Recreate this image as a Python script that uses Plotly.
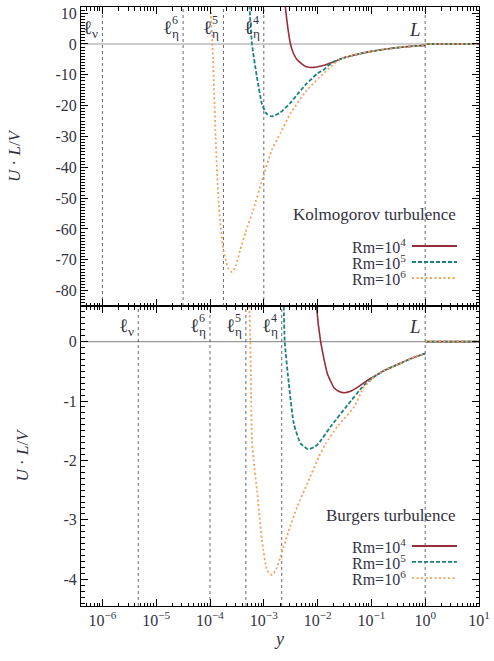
import math
import plotly.graph_objects as go

# ---------------- data ----------------
# Kolmogorov turbulence (top panel)
k_rm4_x = [2.29e-3, 2.51e-3, 3.13e-3, 3.55e-3, 4.17e-3, 5.97e-3, 8.51e-3, 1.26e-2, 1.58e-2, 2.0e-2]
k_rm4_y = [20.0, 12.0, 0.0, -3.0, -5.1, -7.3, -7.6, -7.0, -6.4, -5.8]
k_rm5_x = [5.01e-4, 5.43e-4, 6.03e-4, 7.41e-4, 9.33e-4, 1.12e-3, 1.41e-3, 2.0e-3, 3.16e-3, 4.47e-3, 6.31e-3, 1.0e-2, 1.32e-2, 1.58e-2, 2.0e-2]
k_rm5_y = [30.0, 12.0, 0.0, -10.5, -19.7, -22.6, -23.5, -22.3, -19.0, -15.8, -12.8, -9.5, -8.3, -7.0, -5.8]
k_rm6_x = [1.0e-4, 1.03e-4, 1.14e-4, 1.27e-4, 1.43e-4, 1.57e-4, 1.78e-4, 1.99e-4, 2.19e-4, 2.57e-4, 3.02e-4, 3.63e-4, 4.6e-4, 6.03e-4, 1.0e-3, 1.41e-3, 2.04e-3, 3.16e-3, 6.31e-3, 1.32e-2, 1.78e-2, 2.51e-2]
k_rm6_y = [25.0, 12.0, -5.0, -30.0, -50.0, -59.0, -66.9, -70.5, -72.8, -74.0, -72.0, -66.9, -61.0, -55.0, -42.5, -34.4, -28.9, -22.4, -15.0, -9.4, -7.3, -5.1]
k_common_x = [3.16e-2, 5.62e-2, 0.1, 0.178, 0.316, 0.562, 1.0, None, 1.0, 10.0]
k_common_y = [-4.4, -3.3, -2.4, -1.7, -1.15, -0.75, -0.45, None, 0.0, 0.0]

# Burgers turbulence (bottom panel)
b_rm4_x = [8.91e-3, 9.55e-3, 1.14e-2, 1.51e-2, 2.0e-2, 2.51e-2, 3.09e-2, 3.98e-2, 5.5e-2, 8.51e-2, 0.1]
b_rm4_y = [1.5, 0.6, 0.0, -0.53, -0.77, -0.84, -0.86, -0.84, -0.77, -0.65, -0.61]
b_rm5_x = [2.19e-3, 2.35e-3, 2.45e-3, 2.91e-3, 3.61e-3, 4.81e-3, 6.61e-3, 8.91e-3, 1.05e-2, 1.75e-2, 3.59e-2, 7.33e-2, 0.1]
b_rm5_y = [1.5, 0.6, 0.0, -0.70, -1.38, -1.71, -1.81, -1.77, -1.71, -1.43, -1.07, -0.73, -0.63]
b_rm6_x = [5.01e-4, 5.37e-4, 5.62e-4, 5.82e-4, 6.01e-4, 6.46e-4, 7.46e-4, 9.25e-4, 1.15e-3, 1.42e-3, 1.70e-3, 2.03e-3, 2.91e-3, 4.18e-3, 6.41e-3, 1.05e-2, 1.41e-2, 2.32e-2, 4.76e-2, 7.08e-2, 0.1]
b_rm6_y = [1.5, 0.6, 0.0, -0.9, -1.66, -2.0, -2.50, -3.34, -3.85, -3.93, -3.83, -3.63, -3.18, -2.78, -2.39, -1.94, -1.72, -1.43, -1.10, -0.78, -0.64]
b_common_x = [0.126, 0.178, 0.316, 0.562, 1.0, None, 1.0, 10.0]
b_common_y = [-0.56, -0.48, -0.38, -0.28, -0.20, None, 0.0, 0.0]

# characteristic scales (vertical dashed lines)
k_scales = [1e-6, 3.162e-5, 1.778e-4, 1.0e-3, 1.0]
b_scales = [4.642e-6, 1.0e-4, 4.642e-4, 2.154e-3, 1.0]
scale_names = ["ν", "η", "η", "η", "L"]
scale_sups = ["", "6", "5", "4", ""]

x_tick_vals = [1e-6, 1e-5, 1e-4, 1e-3, 1e-2, 1e-1, 1e0, 1e1]
x_tick_text = ["10<sup>−6</sup>", "10<sup>−5</sup>", "10<sup>−4</sup>", "10<sup>−3</sup>",
               "10<sup>−2</sup>", "10<sup>−1</sup>", "10<sup>0</sup>", "10<sup>1</sup>"]
k_y_ticks = [10, 0, -10, -20, -30, -40, -50, -60, -70, -80]
b_y_ticks = [0, -1, -2, -3, -4]

legend_labels = ["Rm=10<sup>4</sup>", "Rm=10<sup>5</sup>", "Rm=10<sup>6</sup>"]
panel_titles = ["Kolmogorov turbulence", "Burgers turbulence"]

# ---------------- styling ----------------
FONT = "Liberation Serif"
TXT = "#33333f"
colors = ["#962f3a", "#1d8080", "#f4a25a"]
dashes = ["solid", "4px,2px", "2px,2.5px"]
XMIN, XMAX = 4e-7, 10.0

fig = go.Figure()

def add_panel(xa, ya, curves, common_x, common_y, scales, yr):
    fig.add_trace(go.Scatter(x=[XMIN, XMAX], y=[0, 0], mode="lines",
                             line=dict(color="#9a9a9a", width=1.2),
                             xaxis=xa, yaxis=ya, showlegend=False, hoverinfo="skip"))
    for s in scales:
        fig.add_trace(go.Scatter(x=[s, s], y=[yr[0], yr[1]], mode="lines",
                                 line=dict(color="#444444", width=0.8, dash="3px,3px"),
                                 xaxis=xa, yaxis=ya, showlegend=False, hoverinfo="skip"))
    for i, (cx, cy) in enumerate(curves):
        fig.add_trace(go.Scatter(x=cx + common_x, y=cy + common_y, mode="lines",
                                 connectgaps=False,
                                 line=dict(color=colors[i], width=1.8 if i else 1.6,
                                           dash=dashes[i], shape="spline", smoothing=0.5),
                                 xaxis=xa, yaxis=ya, showlegend=False))

K_RANGE = [-85, 12]
B_RANGE = [-4.45, 0.6]
add_panel("x2", "y2", [(k_rm4_x, k_rm4_y), (k_rm5_x, k_rm5_y), (k_rm6_x, k_rm6_y)],
          k_common_x, k_common_y, k_scales, K_RANGE)
add_panel("x", "y", [(b_rm4_x, b_rm4_y), (b_rm5_x, b_rm5_y), (b_rm6_x, b_rm6_y)],
          b_common_x, b_common_y, b_scales, B_RANGE)

minor_x = [k * 10.0 ** n for n in range(-7, 1) for k in range(2, 10) if XMIN <= k * 10.0 ** n <= XMAX]

def xaxis_cfg(show_labels):
    return dict(type="log", range=[math.log10(XMIN), math.log10(XMAX)], automargin=False,
                tickmode="array", tickvals=x_tick_vals, ticktext=x_tick_text,
                showticklabels=show_labels, ticks="inside", ticklen=7, tickwidth=1,
                tickcolor="black", showline=True, linecolor="black", linewidth=1,
                mirror="allticks", showgrid=False, zeroline=False,
                minor=dict(tickmode="array", tickvals=minor_x, ticks="inside",
                           ticklen=3.5, tickcolor="black", showgrid=False),
                tickfont=dict(family=FONT, size=16, color=TXT))

def yaxis_cfg(rng, ticks, mdt, dom):
    return dict(range=rng, domain=dom, tickmode="array", tickvals=ticks, automargin=False,
                ticktext=[str(t) for t in ticks], ticks="inside", ticklen=7,
                tickcolor="black", showline=True, linecolor="black", linewidth=1,
                mirror="allticks", showgrid=False, zeroline=False,
                minor=dict(dtick=mdt, ticks="inside", ticklen=3.5, tickcolor="black", showgrid=False),
                tickfont=dict(family=FONT, size=16, color=TXT),
                title=dict(text="<i>U</i> · <i>L</i>/<i>V</i>", standoff=30,
                           font=dict(family=FONT, size=17, color=TXT)))

split = 300 / 599
fig.update_layout(
    width=494, height=661,
    margin=dict(l=81, r=15, t=7, b=55),
    paper_bgcolor="white", plot_bgcolor="white",
    showlegend=False,
    xaxis=dict(**xaxis_cfg(True), anchor="y",
               title=dict(text="<i>y</i>", standoff=4, font=dict(family=FONT, size=18, color=TXT))),
    yaxis=dict(**yaxis_cfg(B_RANGE, b_y_ticks, 0.1, [0, split]), anchor="x"),
    xaxis2=dict(**xaxis_cfg(False), anchor="y2", matches="x"),
    yaxis2=dict(**yaxis_cfg(K_RANGE, k_y_ticks, 1, [split, 1]), anchor="x2"),
)

annotations = []
for (xr, yr_, scales, ylab) in [("x2", "y2", k_scales, 4.8), ("x", "y", b_scales, 0.25)]:
    for s, nm, sp in zip(scales, scale_names, scale_sups):
        lx = math.log10(s)
        txt = "<i>L</i>" if nm == "L" else "ℓ<sub>%s</sub>" % nm
        annotations.append(dict(x=lx, y=ylab, xref=xr, yref=yr_, text=txt, showarrow=False,
                                xanchor="right", yanchor="middle", xshift=-2,
                                font=dict(family=FONT, size=19, color=TXT)))
        if sp:
            annotations.append(dict(x=lx, y=ylab, xref=xr, yref=yr_, text=sp, showarrow=False,
                                    xanchor="right", yanchor="middle", xshift=-3, yshift=9,
                                    font=dict(family=FONT, size=12, color=TXT)))

legend_pos = [(0.653, [0.601, 0.5743, 0.5476]), (0.1519, [0.1002, 0.0735, 0.0467])]
shapes = []
for (ty, rows), title in zip(legend_pos, panel_titles):
    annotations.append(dict(x=0.947, y=ty, xref="paper", yref="paper", text=title,
                            showarrow=False, xanchor="right", yanchor="middle",
                            font=dict(family=FONT, size=17, color=TXT)))
    for i, ry in enumerate(rows):
        annotations.append(dict(x=0.8216, y=ry, xref="paper", yref="paper", text=legend_labels[i],
                                showarrow=False, xanchor="right", yanchor="middle",
                                font=dict(family=FONT, size=16, color=TXT)))
        shapes.append(dict(type="line", xref="paper", yref="paper", x0=0.8317, x1=0.9447,
                           y0=ry, y1=ry, line=dict(color=colors[i], width=1.8, dash=dashes[i])))

fig.update_layout(annotations=annotations, shapes=shapes)
fig.write_html("out.html", config={"displayModeBar": False},
               post_script="document.body.style.margin='0';")
